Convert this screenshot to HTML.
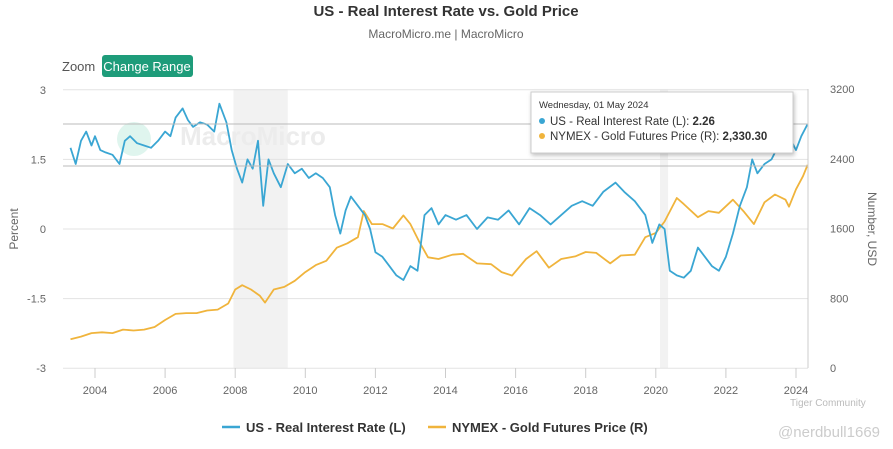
<!DOCTYPE html>
<html><head><meta charset="utf-8"><style>
body{margin:0;background:#fff;font-family:"Liberation Sans",sans-serif;}
#wrap{position:relative;width:893px;height:449px;overflow:hidden;}
</style></head><body>
<div id="wrap">
<svg id="c" width="893" height="449" xmlns="http://www.w3.org/2000/svg">
<text x="446" y="16" text-anchor="middle" font-size="15" font-weight="bold" fill="#333">US - Real Interest Rate vs. Gold Price</text>
<text x="446" y="38" text-anchor="middle" font-size="12" fill="#666">MacroMicro.me | MacroMicro</text>
<text x="62" y="71" font-size="13" fill="#555">Zoom</text>
<g><rect x="102" y="55" width="91" height="22" rx="3" fill="#1e9c7a"/><text x="147" y="71" text-anchor="middle" font-size="13" fill="#fff">Change Range</text></g>
<g id="bands"></g><g id="grid"></g>
<text x="180" y="145" font-size="26" fill="#ececec" font-weight="bold">MacroMicro</text>
<circle cx="134" cy="139" r="17" fill="#dff5ee"/>
<g id="axes"></g><g id="series"></g>
<text x="18" y="229" font-size="12" fill="#666" text-anchor="middle" transform="rotate(-90 18 229)">Percent</text>
<text x="868" y="229" font-size="12" fill="#666" text-anchor="middle" transform="rotate(90 868 229)">Number, USD</text>
<line x1="63" x2="808" y1="124" y2="124" stroke="#bbb"/>
<line x1="63" x2="808" y1="166" y2="166" stroke="#bbb"/>
<line x1="808" x2="808" y1="89" y2="368" stroke="#ccc"/>
<g>
<rect x="531" y="92" width="262" height="61" fill="#fff" stroke="#ccc" style="filter:drop-shadow(1px 2px 2px rgba(0,0,0,.25))"/>
<text x="539" y="108" font-size="9.5" fill="#333">Wednesday, 01 May 2024</text>
<circle cx="542" cy="121" r="3" fill="#3aa6d3"/><text x="550" y="125" font-size="11.5" fill="#333">US - Real Interest Rate (L): <tspan font-weight="bold">2.26</tspan></text>
<circle cx="542" cy="136" r="3" fill="#f0b43c"/><text x="550" y="140" font-size="11.5" fill="#333">NYMEX - Gold Futures Price (R): <tspan font-weight="bold">2,330.30</tspan></text>
</g>
<g><line x1="222" x2="240" y1="427" y2="427" stroke="#3aa6d3" stroke-width="2.5"/><text x="246" y="432" font-size="13" font-weight="bold" fill="#333">US - Real Interest Rate (L)</text></g>
<g><line x1="428" x2="446" y1="427" y2="427" stroke="#f0b43c" stroke-width="2.5"/><text x="452" y="432" font-size="13" font-weight="bold" fill="#333">NYMEX - Gold Futures Price (R)</text></g>
<text x="880" y="437" text-anchor="end" font-size="15" fill="#ccc">@nerdbull1669</text>
<text x="790" y="406" font-size="10" fill="#bbb">Tiger Community</text>
</svg></div>
<script>
const rateYears=[2003.3,2003.45,2003.6,2003.75,2003.9,2004,2004.15,2004.3,2004.5,2004.7,2004.85,2005,2005.2,2005.4,2005.6,2005.8,2006,2006.15,2006.3,2006.5,2006.65,2006.8,2007,2007.2,2007.4,2007.55,2007.75,2007.9,2008.05,2008.2,2008.35,2008.5,2008.65,2008.8,2008.95,2009.1,2009.3,2009.5,2009.7,2009.9,2010.1,2010.3,2010.5,2010.7,2010.85,2011,2011.15,2011.3,2011.5,2011.7,2011.85,2012,2012.2,2012.4,2012.6,2012.8,2013,2013.2,2013.4,2013.6,2013.8,2014,2014.3,2014.6,2014.9,2015.2,2015.5,2015.8,2016.1,2016.4,2016.7,2017,2017.3,2017.6,2017.9,2018.2,2018.5,2018.85,2019.1,2019.4,2019.7,2019.9,2020.1,2020.25,2020.4,2020.6,2020.8,2021,2021.2,2021.4,2021.6,2021.8,2022,2022.2,2022.4,2022.6,2022.75,2022.9,2023.1,2023.3,2023.5,2023.7,2023.8,2024,2024.15,2024.33];
const rateVals=[1.75,1.4,1.9,2.1,1.8,2.0,1.7,1.65,1.6,1.4,1.9,2.0,1.85,1.8,1.75,1.9,2.1,2.0,2.4,2.6,2.35,2.2,2.3,2.25,2.1,2.7,2.3,1.7,1.3,1.0,1.5,1.3,1.9,0.5,1.5,1.2,0.9,1.4,1.2,1.3,1.1,1.2,1.1,0.9,0.3,-0.1,0.4,0.7,0.5,0.3,0.0,-0.5,-0.6,-0.8,-1.0,-1.1,-0.8,-0.9,0.3,0.45,0.1,0.3,0.2,0.3,0.0,0.25,0.2,0.4,0.1,0.45,0.3,0.1,0.3,0.5,0.6,0.5,0.8,1.0,0.8,0.6,0.3,-0.3,0.1,0.0,-0.9,-1.0,-1.05,-0.9,-0.4,-0.6,-0.8,-0.9,-0.6,-0.1,0.5,0.9,1.5,1.2,1.4,1.5,1.8,2.4,2.0,1.7,2.0,2.26];
const goldYears=[2003.3,2003.6,2003.9,2004.2,2004.5,2004.8,2005.1,2005.4,2005.7,2006,2006.3,2006.6,2006.9,2007.2,2007.5,2007.8,2008,2008.2,2008.45,2008.7,2008.85,2009.1,2009.4,2009.7,2010,2010.3,2010.6,2010.9,2011.2,2011.5,2011.67,2011.9,2012.2,2012.5,2012.8,2013,2013.25,2013.5,2013.8,2014.2,2014.5,2014.9,2015.3,2015.6,2015.9,2016.3,2016.6,2016.95,2017.3,2017.7,2018,2018.3,2018.7,2019,2019.4,2019.7,2020,2020.25,2020.6,2020.8,2021.2,2021.5,2021.8,2022.2,2022.5,2022.8,2023.1,2023.4,2023.7,2023.8,2024,2024.2,2024.33];
const goldVals=[330,360,400,410,400,440,430,440,470,550,620,630,630,660,670,740,900,950,900,830,750,900,930,1000,1100,1180,1230,1380,1430,1500,1800,1650,1650,1600,1750,1650,1450,1270,1250,1300,1310,1200,1190,1100,1060,1250,1340,1150,1250,1280,1330,1320,1200,1290,1300,1500,1550,1680,1950,1880,1730,1800,1780,1930,1800,1650,1900,1990,1930,1850,2050,2200,2330];
const leftTicks=[3,1.5,0,-1.5,-3],rightTicks=[3200,2400,1600,800,0],xTicks=[2004,2006,2008,2010,2012,2014,2016,2018,2020,2022,2024];
const recessions=[[2007.95,2009.5],[2020.12,2020.35]];
const NS="http://www.w3.org/2000/svg";
const X=t=>95+(t-2004)*35.05, YL=v=>229-v*46.4, YR=p=>368-p*279/3200;
function mk(tag,attrs,parent){const e=document.createElementNS(NS,tag);for(const k in attrs)e.setAttribute(k,attrs[k]);document.getElementById(parent).appendChild(e);return e;}
recessions.forEach(r=>{const e=mk('rect',{x:X(r[0]),y:89,width:X(r[1])-X(r[0]),height:279,fill:'#f2f2f2'},'bands');

});
leftTicks.forEach((v,i)=>{const y=YL(v);const l=mk('line',{x1:63,x2:808,y1:y,y2:y,stroke:'#e3e3e3'},'grid');


const t=mk('text',{x:46,y:y+4,'text-anchor':'end','font-size':11,fill:'#666'},'axes');t.textContent=v;


const r=mk('text',{x:830,y:YR(rightTicks[i])+4,'font-size':11,fill:'#666'},'axes');r.textContent=rightTicks[i];

});
xTicks.forEach(t=>{const x=X(t);mk('line',{x1:x,x2:x,y1:368,y2:378,stroke:'#ccc'},'axes');
const s=mk('text',{x:x,y:394,'text-anchor':'middle','font-size':11,fill:'#666'},'axes');s.textContent=t;

});
function line(xs,vs,f,col,name){const d=xs.map((t,i)=>(i?'L':'M')+X(t).toFixed(1)+','+f(vs[i]).toFixed(1)).join('');
const p=mk('path',{d:d,fill:'none',stroke:col,'stroke-width':1.8,'stroke-linejoin':'round'},'series');

}
line(goldYears,goldVals,YR,'#f0b43c','gold-price-line');
line(rateYears,rateVals,YL,'#3aa6d3','real-rate-line');
</script></body></html>
